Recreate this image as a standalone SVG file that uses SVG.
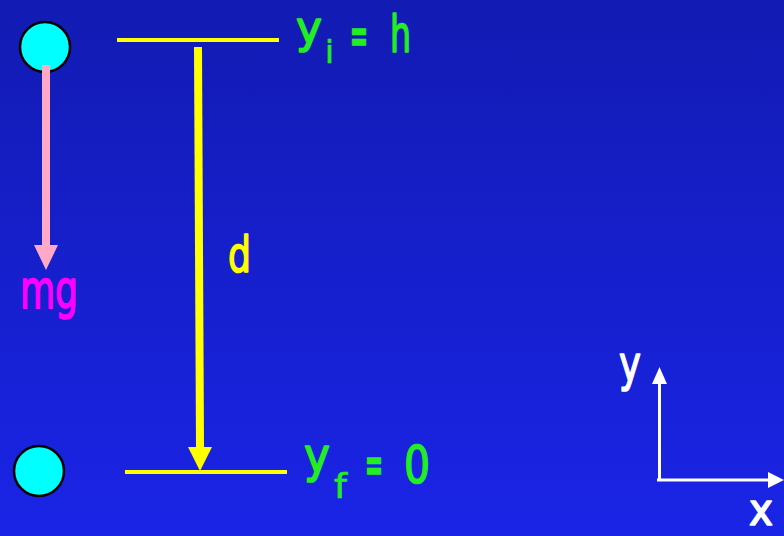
<svg xmlns="http://www.w3.org/2000/svg" width="784" height="536" viewBox="0 0 784 536">
<defs>
<linearGradient id="bg" x1="0" y1="0" x2="0" y2="1">
<stop offset="0" stop-color="#121bb2"/>
<stop offset="1" stop-color="#1a24e6"/>
</linearGradient>
<style>
.t{font-family:"Comic Sans MS","DejaVu Sans",sans-serif;stroke-width:1.6;stroke-linejoin:round;}
.g{fill:#22ee22;stroke:#22ee22;}
.sub{stroke-width:0.6;}
.ball{fill:#00ffff;stroke:#000;stroke-width:2.5;}
.lvl{stroke:#ffff00;stroke-width:4;}
.ax{stroke:#fff;stroke-width:3;fill:none;}
</style>
</defs>
<rect width="784" height="536" fill="url(#bg)"/>

<g id="ball-top"><circle class="ball" cx="45" cy="47" r="25"/></g>
<g id="ball-bottom"><circle class="ball" cx="39" cy="471" r="25"/></g>

<g id="levels">
<line class="lvl" x1="117" y1="40" x2="279" y2="40"/>
<line class="lvl" x1="125" y1="472" x2="287" y2="472"/>
</g>

<g id="connectors">
<rect x="42" y="65" width="8" height="181" fill="#ffa8c8"/>
<polygon points="34,245 58,245 46,270" fill="#ffa8c8"/>
<polygon points="194,47 202,47 204,448 196,448" fill="#ffff00"/>
<polygon points="188,447 212,447 200,471" fill="#ffff00"/>
<line class="ax" x1="659.5" y1="382" x2="659.5" y2="481"/>
<polygon points="652,384 667,384 659.5,367" fill="#fff"/>
<line class="ax" x1="657" y1="480" x2="770" y2="480"/>
<polygon points="768,472 768,488 784,480" fill="#fff"/>
</g>

<g id="label-yi" class="t g">
<text x="296" y="43" font-size="44" textLength="26" lengthAdjust="spacingAndGlyphs">y</text>
<text class="sub" x="325" y="63" font-size="32">i</text>
<text x="359" y="52" font-size="46" font-weight="bold" text-anchor="middle" textLength="18" lengthAdjust="spacingAndGlyphs">=</text>
<text x="390" y="52" font-size="52" textLength="21" lengthAdjust="spacingAndGlyphs">h</text>
</g>

<g id="label-yf" class="t g">
<text x="304" y="472" font-size="48" textLength="26" lengthAdjust="spacingAndGlyphs">y</text>
<text class="sub" x="334" y="498" font-size="34" textLength="13" lengthAdjust="spacingAndGlyphs">f</text>
<text x="374" y="481" font-size="46" font-weight="bold" text-anchor="middle" textLength="18" lengthAdjust="spacingAndGlyphs">=</text>
<text x="404" y="483" font-size="52" textLength="26" lengthAdjust="spacingAndGlyphs">0</text>
</g>

<g id="label-d"><text class="t" x="228" y="272" font-size="50" fill="#ffff00" stroke="#ffff00" textLength="23" lengthAdjust="spacingAndGlyphs">d</text></g>
<g id="label-mg"><text class="t" x="20" y="308" font-size="54" fill="#ff00ff" stroke="#ff00ff" textLength="58" lengthAdjust="spacingAndGlyphs">mg</text></g>
<g id="label-y-axis"><text class="t" x="619" y="381" font-size="50" fill="#fff" stroke="#fff" textLength="22" lengthAdjust="spacingAndGlyphs">y</text></g>
<g id="label-x-axis"><text class="t" x="749" y="525" font-size="44" fill="#fff" stroke="#fff" textLength="24" lengthAdjust="spacingAndGlyphs">x</text></g>
</svg>
